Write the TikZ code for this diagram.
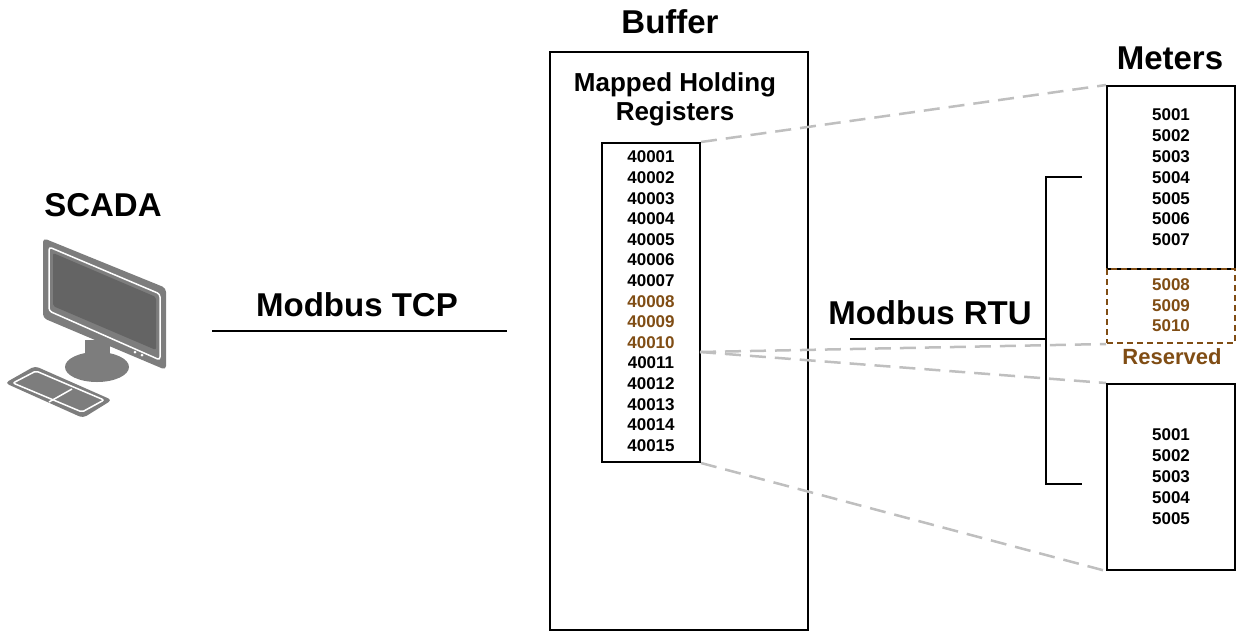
\documentclass[tikz,border=0pt]{standalone}
\usepackage{fontspec}
\setmainfont{Liberation Sans}
\usetikzlibrary{calc}
\definecolor{resbrown}{RGB}{128,77,20}
\definecolor{icongray}{RGB}{125,125,125}
\begin{document}
\begin{tikzpicture}[x=1pt,y=-1pt,
    title/.style ={font=\fontsize{33}{36}\selectfont\bfseries},
    label/.style ={font=\fontsize{26}{31}\selectfont\bfseries, align=center},
    regnum/.style ={font=\fontsize{17}{20}\selectfont\bfseries, inner sep=0pt},
    box/.style ={draw, line width=2pt, inner sep=0pt},
    link/.style ={line width=2pt},
    guide/.style ={draw=black!25, line width=2.5pt, dash pattern=on 16pt off 9pt}]
   \useasboundingbox (0,0) rectangle (1247,641);
   % SCADA computer
   \node[title] (scada) at (103,205) {SCADA};
   \fill[icongray] (97,367) ellipse (32 and 15);
   \fill[icongray] (85,340) rectangle (110,365);
   \fill[icongray, rounded corners=4pt] (43,238) -- (166,288) -- (166,370) -- (43,318) -- cycle;
   \draw[white, line width=1.5pt, rounded corners=3pt] (49,247) -- (160,294) -- (160,360) -- (49,311) -- cycle;
   \fill[icongray!80!black, rounded corners=2pt] (53,253) -- (156,297) -- (156,350) -- (53,306) -- cycle;
   \fill[white] (135,352) circle (1.5) (142,355) circle (1.5);
   \fill[icongray, rounded corners=4pt] (5,383) -- (35,366) -- (112,400) -- (83,418) -- cycle;
   \draw[white, line width=1.5pt, rounded corners=2pt] (13,383) -- (36,371) -- (104,400) -- (82,412) -- cycle;
   \draw[white, line width=1.5pt] (72,389) -- (49,402);
   % links
   \node[title] (tcp) at (357,305) {Modbus TCP};
   \coordinate (tcpA) at (212,331);
   \coordinate (tcpB) at (507,331);
   \draw[link] (tcpA) to (tcpB);
   % buffer
   \node[title] (buftitle) at (670,22) {Buffer};
   \node[box, minimum width=258, minimum height=578] (buffer) at (679,341) {};
   \node[label] (mapped) at (675,99) {Mapped Holding\\[-2pt]Registers};
   \node[box, minimum width=98, minimum height=319] (regs) at (651,302.5) {};
   \foreach \i in {1,...,15} {
     \ifnum\i>7 \ifnum\i<11 \def\c{resbrown}\else\def\c{black}\fi\else\def\c{black}\fi
     \node[regnum, text=\c] (r\i) at (651,{157+20.6*(\i-1)}) {\ifnum\i<10 4000\i\else 400\i\fi};
   }
   % meters
   \node[title] (meters) at (1170,58) {Meters};
   \node[box, minimum width=128, minimum height=183] (m1) at (1171,177.5) {};
   \foreach \i in {1,...,7}
     \node[regnum] (a\i) at (1171,{115+20.8*(\i-1)}) {500\i};
   \node[draw=resbrown, line width=2pt, dash pattern=on 6pt off 4pt, minimum width=128, minimum height=74, inner sep=0pt] (res) at (1171,306) {};
   \foreach \i/\n in {1/5008,2/5009,3/5010}
     \node[regnum, text=resbrown] (b\i) at (1171,{285+20.5*(\i-1)}) {\n};
   \node[font=\fontsize{22}{24}\selectfont\bfseries, text=resbrown] (reserved) at (1172,357) {Reserved};
   \node[box, minimum width=128, minimum height=186] (m2) at (1171,477) {};
   \foreach \i in {1,...,5}
     \node[regnum] (c\i) at (1171,{435+20.8*(\i-1)}) {500\i};
   % RTU bus
   \node[title] (rtu) at (930,313) {Modbus RTU};
   \coordinate (busT) at (1046,177);
   \coordinate (busB) at (1046,484);
   \coordinate (tickT) at (1082,177);
   \coordinate (tickB) at (1082,484);
   \coordinate (rtuA) at (850,339);
   \coordinate (rtuB) at (1046,339);
   \draw[link] (tickT) -- (busT) -- (busB) -- (tickB);
   \draw[link] (rtuA) to (rtuB);
   % guides
   \coordinate (r10e) at (700,352);
   \draw[guide] (regs.north east) to (m1.north west);
   \draw[guide] (r10e) to (res.south west);
   \draw[guide] (r10e) to (m2.north west);
   \draw[guide] (regs.south east) to (m2.south west);
 \end{tikzpicture}
\end{document}
